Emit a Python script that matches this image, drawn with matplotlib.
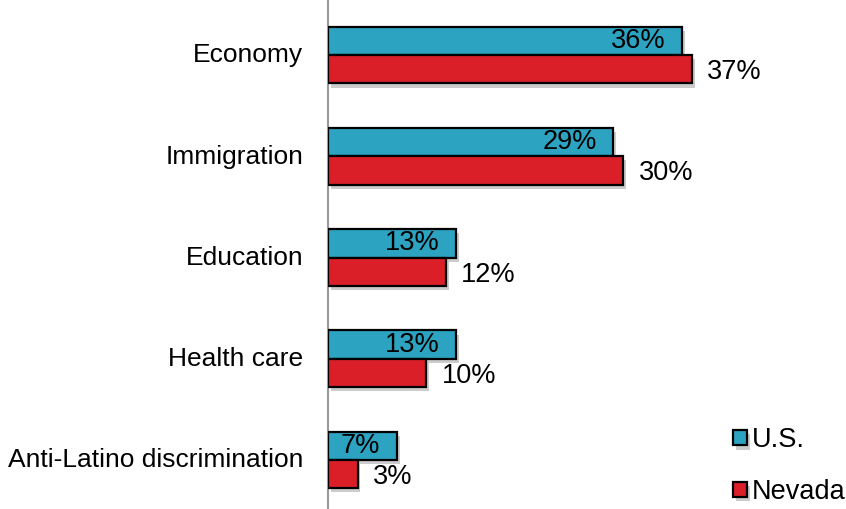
import matplotlib.pyplot as plt
import matplotlib.patheffects as pe
import numpy as np

plt.rcParams["font.family"] = ["Liberation Sans", "DejaVu Sans"]

categories = ["Economy", "Immigration", "Education", "Health care", "Anti-Latino discrimination"]
us_values = [36, 29, 13, 13, 7]
nevada_values = [37, 30, 12, 10, 3]
series_names = ["U.S.", "Nevada"]

US_COLOR = "#2CA3C1"
NV_COLOR = "#DA1F28"
FS = 19

fig = plt.figure(figsize=(8.46, 5.09), dpi=100)
ax = fig.add_axes([328 / 846, 0, (842 - 328) / 846, 1])

y = np.arange(len(categories))
h = 0.28
shadow = [pe.SimplePatchShadow(offset=(2, -3), shadow_rgbFace="#000000", alpha=0.2), pe.Normal()]

ax.barh(y - h / 2, us_values, height=h, color=US_COLOR, edgecolor="black",
        linewidth=1.6, label=series_names[0], path_effects=shadow, zorder=3)
ax.barh(y + h / 2, nevada_values, height=h, color=NV_COLOR, edgecolor="black",
        linewidth=1.6, label=series_names[1], path_effects=shadow, zorder=3)

# U.S. values sit inside the bar end, Nevada values just past it
for yi, v in zip(y, us_values):
    ax.annotate(f"{v}%", (v, yi - h / 2), xytext=(-12, 0), textcoords="offset points",
                ha="right", va="center", fontsize=19.5, zorder=4)
for yi, v in zip(y, nevada_values):
    ax.annotate(f"{v}%", (v, yi + h / 2 + 0.03), xytext=(11, 0), textcoords="offset points",
                ha="left", va="center", fontsize=19.5, zorder=4)

ax.set_xlim(0, (842 - 328) / 9.84)
ax.set_ylim(4 + 49 / 101.2, -55 / 101.2)
ax.set_yticks(y - 0.02)
ax.set_yticklabels(categories, fontsize=FS)
ax.tick_params(axis="y", length=0, pad=18)
ax.set_xticks([])
for side in ["top", "right", "bottom"]:
    ax.spines[side].set_visible(False)
ax.spines["left"].set_color("#999999")
ax.spines["left"].set_linewidth(1.5)

ax.legend(loc="lower right", bbox_to_anchor=(1.055, -0.04), frameon=False, fontsize=19.5,
          handlelength=0.5, handleheight=0.5, handletextpad=0.2, labelspacing=0.95)

fig.savefig("out.png", dpi=100)
